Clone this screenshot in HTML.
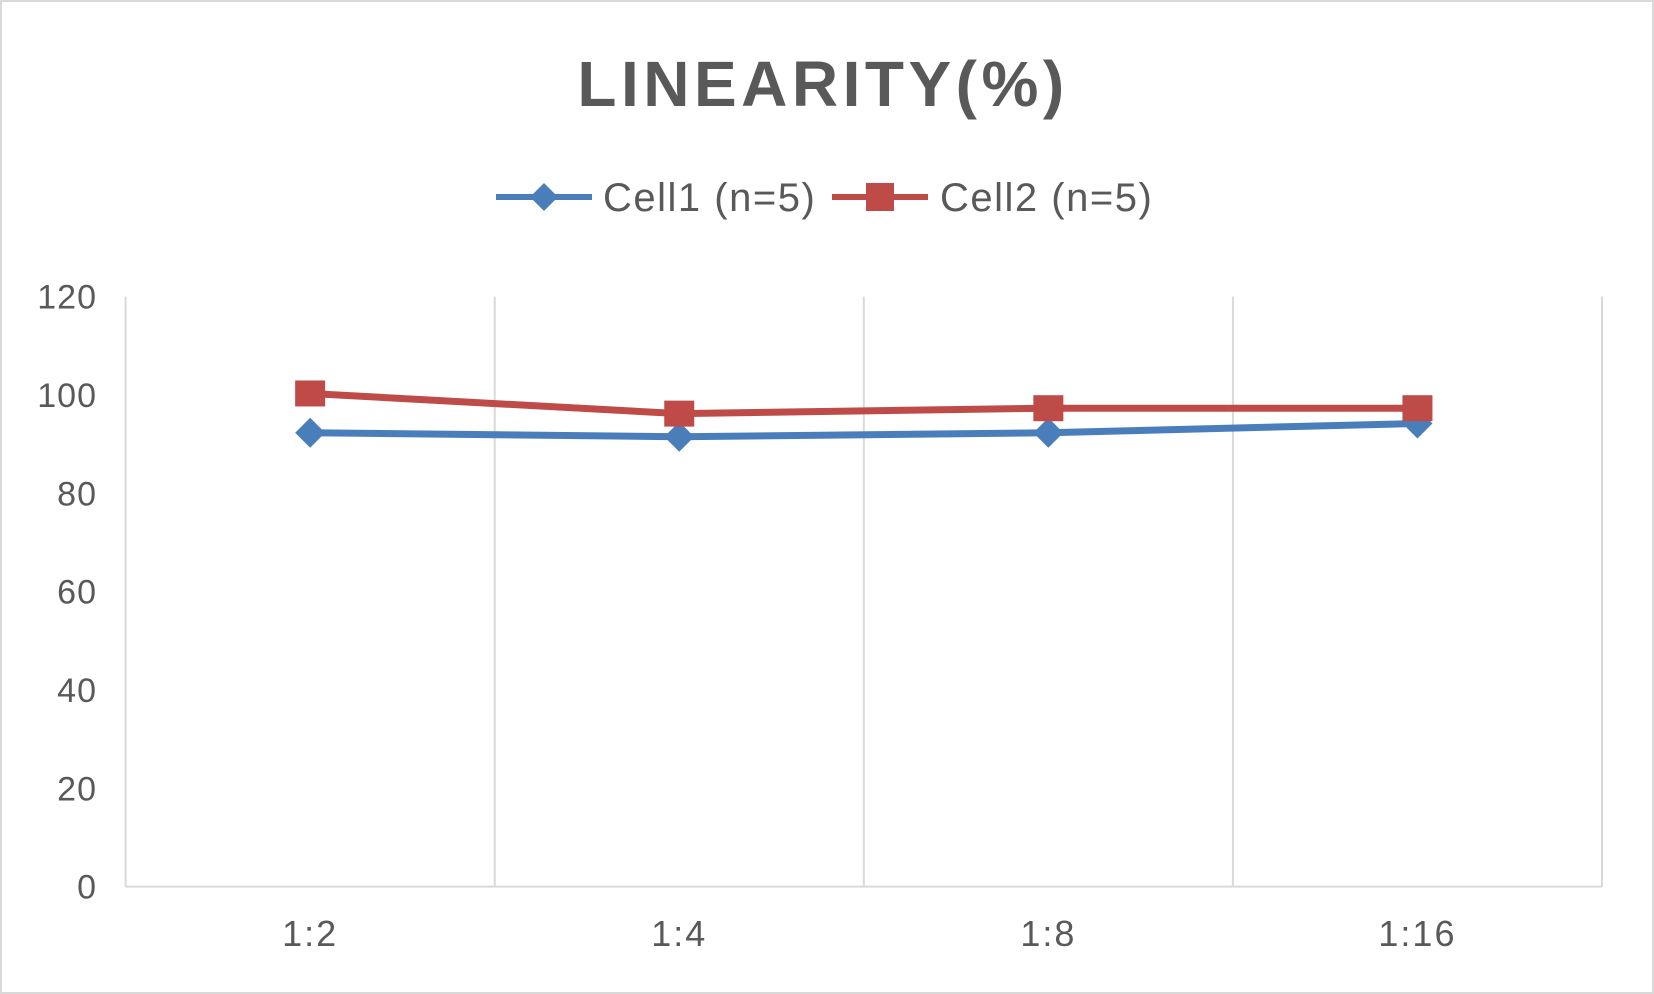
<!DOCTYPE html>
<html><head><meta charset="utf-8"><style>
html,body{margin:0;padding:0;background:#fff}
svg{display:block;font-family:"Liberation Sans","DejaVu Sans",sans-serif}
</style></head><body>
<svg id="chart" width="1654" height="994" viewBox="0 0 1654 994" xmlns="http://www.w3.org/2000/svg">
<rect x="1" y="1" width="1652" height="992" fill="#fff" stroke="#d9d9d9" stroke-width="2"/>
<text x="823" y="106" text-anchor="middle" font-size="64" font-weight="bold" fill="#595959" letter-spacing="4.5">LINEARITY(%)</text>
<g>
<g>
<line x1="496" y1="197" x2="592" y2="197" stroke="#4a7ebb" stroke-width="6"/>
<path d="M544 183 L558 197 L544 211 L530 197 Z" fill="#4a7ebb"/>
<text x="603" y="211" font-size="40" fill="#595959" letter-spacing="1.5">Cell1 (n=5)</text>
</g>
<g>
<line x1="832" y1="197" x2="928" y2="197" stroke="#be4b48" stroke-width="6"/>
<rect x="866" y="183" width="28" height="28" fill="#be4b48"/>
<text x="940" y="211" font-size="40" fill="#595959" letter-spacing="1.5">Cell2 (n=5)</text>
</g>
</g>
<g id="grid"></g>
<g id="yticks"></g>
<g id="xticks"></g>
<g id="series"></g>
</svg>
<script>
const categories = ["1:2","1:4","1:8","1:16"];
const cell1 = [92.3, 91.5, 92.3, 94.2];
const cell2 = [100.3, 96.2, 97.3, 97.3];
const yTicks = [0,20,40,60,80,100,120];

const NS="http://www.w3.org/2000/svg";
const L=125.6,R=1602,T=296.6,B=886.6,yMax=120;
const bw=(R-L)/categories.length;
const xs=i=>L+bw*(i+0.5);
const ys=v=>B-(v/yMax)*(B-T);
function mk(tag,attrs,parent){const e=document.createElementNS(NS,tag);for(const k in attrs)e.setAttribute(k,attrs[k]);parent.appendChild(e);return e;}
const grid=document.getElementById('grid');
for(let i=0;i<=categories.length;i++){
  const x=L+bw*i;
  const l=mk('line',{x1:x,y1:T,x2:x,y2:B,stroke:'#d9d9d9','stroke-width':2},grid);
  
  
}
const base=mk('line',{x1:L,y1:B,x2:R,y2:B,stroke:'#d9d9d9','stroke-width':2},grid);


const yg=document.getElementById('yticks');
yTicks.forEach(v=>{
  const t=mk('text',{x:97,y:ys(v)+12,'text-anchor':'end','font-size':34,fill:'#595959','letter-spacing':1},yg);
  t.textContent=v;
  
  
});
const xg=document.getElementById('xticks');
categories.forEach((c,i)=>{
  const t=mk('text',{x:xs(i),y:946,'text-anchor':'middle','font-size':36,fill:'#595959','letter-spacing':2},xg);
  t.textContent=c;
  
  
});
const sg=document.getElementById('series');
function drawLine(vals,color,name){
  const pts=vals.map((v,i)=>xs(i)+','+ys(v)).join(' ');
  const p=mk('polyline',{points:pts,fill:'none',stroke:color,'stroke-width':7,'stroke-linejoin':'round'},sg);
  
  
}
drawLine(cell1,'#4a7ebb','cell1');
drawLine(cell2,'#be4b48','cell2');
cell1.forEach((v,i)=>{
  const x=xs(i),y=ys(v);
  const m=mk('path',{d:`M${x} ${y-15} L${x+15} ${y} L${x} ${y+15} L${x-15} ${y} Z`,fill:'#4a7ebb'},sg);
  
  
});
cell2.forEach((v,i)=>{
  const x=xs(i),y=ys(v);
  const m=mk('rect',{x:x-15,y:y-13,width:30,height:26,fill:'#be4b48'},sg);
  
  
});
</script>
</body></html>
